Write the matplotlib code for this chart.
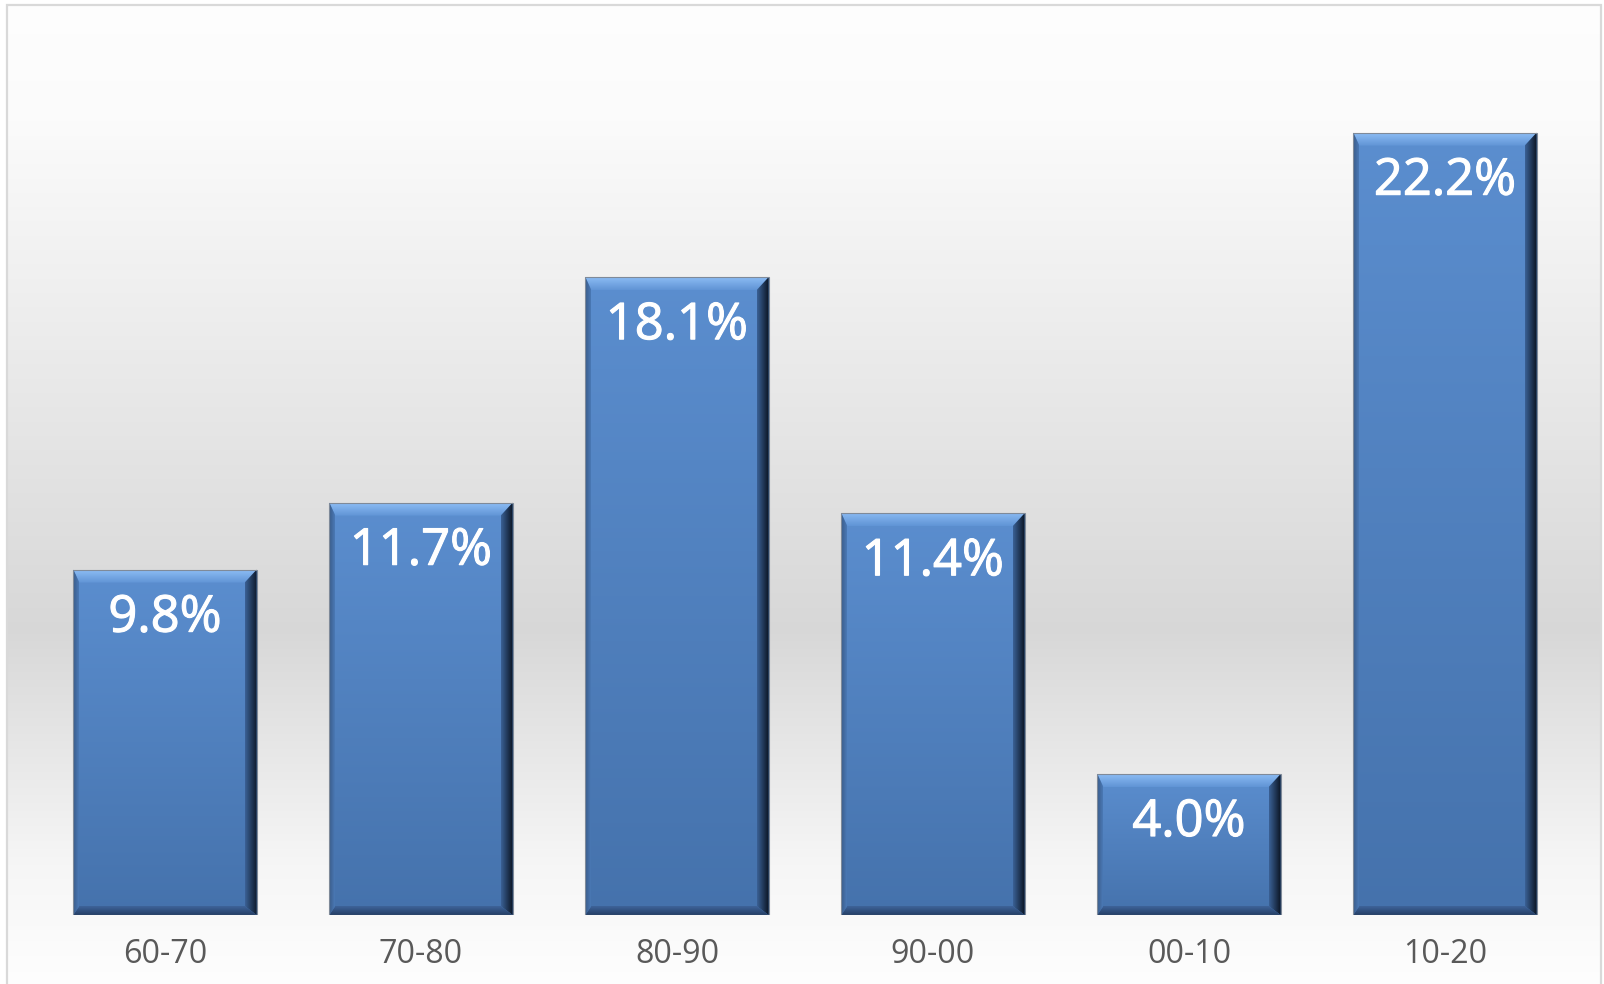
import numpy as np
import matplotlib
matplotlib.use("Agg")
import matplotlib.pyplot as plt
import matplotlib.patheffects as pe
from matplotlib.colors import to_rgb
from matplotlib.patches import Polygon, Rectangle

periods = ["60-70", "70-80", "80-90", "90-00", "00-10", "10-20"]
shares = [9.8, 11.7, 18.1, 11.4, 4.0, 22.2]
value_labels = ["9.8%", "11.7%", "18.1%", "11.4%", "4.0%", "22.2%"]

W, H, DPI = 1604, 984, 100
fig = plt.figure(figsize=(W / DPI, H / DPI), dpi=DPI)

# chart-area background: vertical grey gradient
bg = fig.add_axes([0, 0, 1, 1], zorder=-2)
bg.set_axis_off()
ys = np.linspace(0, 1, 512)
stops_y = [0.0, 0.12, 0.64, 0.88, 1.0]
stops_v = [0.995, 0.985, 0.845, 0.965, 0.995]
vals = np.interp(ys, stops_y, stops_v)
bg_img = np.repeat(vals[:, None, None], 3, axis=2)
bg.imshow(bg_img, extent=[0, 1, 0, 1], aspect="auto", origin="upper",
          interpolation="bilinear")
bg.set_xlim(0, 1)
bg.set_ylim(0, 1)
# white margin outside the chart frame and the frame itself
for rect in [(0, 0, 6.5 / W, 1), (1601.5 / W, 0, 1, 1), (0, 1 - 4.5 / H, 1, 1)]:
    bg.add_patch(Rectangle((rect[0], rect[1]), rect[2] - rect[0], rect[3] - rect[1],
                           facecolor="white", edgecolor="none", zorder=3))
bg.add_patch(Rectangle((7 / W, -0.01), (1601 - 7) / W, 1 - 5 / H + 0.01,
                       facecolor="none", edgecolor="#d9d9d9", linewidth=1.6, zorder=4))

# plot area
ax_left, ax_right = 37, 1573
ax_bottom, ax_top = 915, 34
ax = fig.add_axes([ax_left / W, (H - ax_bottom) / H,
                   (ax_right - ax_left) / W, (ax_bottom - ax_top) / H])
ax.set_facecolor("none")
ymax = 25.0
ax.set_xlim(-0.5, len(periods) - 0.5)
ax.set_ylim(0, ymax)
ax.set_axis_off()

ux = (len(periods)) / (ax_right - ax_left)      # data units per pixel, x
uy = ymax / (ax_bottom - ax_top)                 # data units per pixel, y

bar_w = 0.716
bars = ax.bar(range(len(periods)), shares, width=bar_w, color="#4f81bd",
              edgecolor="none", zorder=1)


def grad_fill(poly_pts, c_from, c_to, direction, zorder):
    poly = Polygon(poly_pts, closed=True, facecolor="none", edgecolor="none",
                   transform=ax.transData)
    ax.add_patch(poly)
    a, b = np.array(to_rgb(c_from)), np.array(to_rgb(c_to))
    t = np.linspace(0, 1, 256)[:, None]
    cols = a * (1 - t) + b * t
    if direction == "down":        # c_from at top -> c_to at bottom
        img = cols[:, None, :]
    else:                          # c_from at left -> c_to at right
        img = cols[None, :, :]
    xs = [p[0] for p in poly_pts]
    yv = [p[1] for p in poly_pts]
    im = ax.imshow(img, extent=[min(xs), max(xs), min(yv), max(yv)],
                   aspect="auto", origin="upper", interpolation="bilinear",
                   zorder=zorder)
    im.set_clip_path(poly)


tpx, rpx, bpx, lpx = 13, 12, 9, 6
for rect, lab in zip(bars, value_labels):
    x0 = rect.get_x()
    x1 = x0 + rect.get_width()
    h = rect.get_height()
    t, r, b, l = tpx * uy, rpx * ux, bpx * uy, lpx * ux
    # face
    grad_fill([(x0, 0), (x1, 0), (x1, h), (x0, h)], "#5b8ecf", "#4572ac", "down", 2)
    # top bevel
    grad_fill([(x0, h), (x1, h), (x1 - r, h - t), (x0 + l, h - t)],
              "#8cbcf4", "#6094d5", "down", 3)
    # right bevel
    grad_fill([(x1, h), (x1, 0), (x1 - r, b), (x1 - r, h - t)],
              "#3b6196", "#0a1422", "right", 3)
    # bottom bevel
    grad_fill([(x0, 0), (x1, 0), (x1 - r, b), (x0 + l, b)],
              "#3e649a", "#263f66", "down", 3)
    # left bevel
    grad_fill([(x0, 0), (x0, h), (x0 + l, h - t), (x0 + l, b)],
              "#3a5b88", "#4a79b6", "right", 3)
    # thin outline
    ax.add_patch(Rectangle((x0, 0), x1 - x0, h, facecolor="none",
                           edgecolor="#7f8a99", linewidth=0.8, zorder=4))
    # value label
    ax.text(rect.get_x() + rect.get_width() / 2, h - 62 * uy, lab,
            ha="center", va="baseline", color="white", fontsize=36.5,
            family="Open Sans", zorder=5,
            path_effects=[pe.withStroke(linewidth=0.8, foreground="white")])

ax.set_xlim(-0.5, len(periods) - 0.5)
ax.set_ylim(0, ymax)

for i, p in enumerate(periods):
    ax.text(i, -48.3 * uy, p, ha="center", va="baseline", color="#595959",
            fontsize=23.2, family="Open Sans", clip_on=False)

fig.savefig("out.png", dpi=DPI)
